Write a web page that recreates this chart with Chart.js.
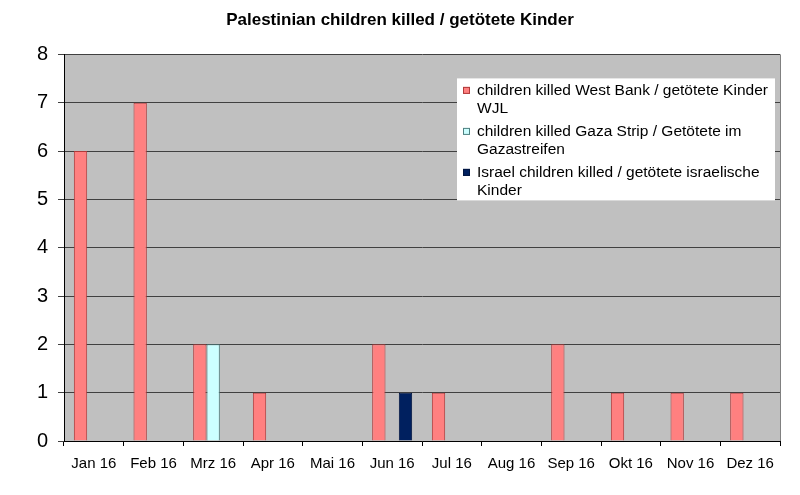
<!DOCTYPE html>
<html>
<head>
<meta charset="utf-8">
<script src="https://cdn.jsdelivr.net/npm/chart.js@4.4.1/dist/chart.umd.min.js"></script>
<style>
    html, body { margin: 0; padding: 0; background: #fff; }
    #wrap { width: 800px; height: 495px; }
</style>
</head>
<body>
<div id="wrap"><canvas id="myChart" width="800" height="495"></canvas></div>
<script>
// data
const months = ['Jan 16', 'Feb 16', 'Mrz 16', 'Apr 16', 'Mai 16', 'Jun 16', 'Jul 16', 'Aug 16', 'Sep 16', 'Okt 16', 'Nov 16', 'Dez 16']
const westBank = [6, 7, 2, 1, 0, 2, 1, 0, 2, 1, 1, 1]
const gaza = [0, 0, 2, 0, 0, 0, 0, 0, 0, 0, 0, 0]
const israel = [0, 0, 0, 0, 0, 1, 0, 0, 0, 0, 0, 0]
const seriesNames = [
    'children killed West Bank / getötete Kinder WJL',
    'children killed Gaza Strip / Getötete im Gazastreifen',
    'Israel children killed / getötete israelische Kinder'
]
const yTicks = [0, 1, 2, 3, 4, 5, 6, 7, 8]

const FONT = '"Liberation Sans", Arial, sans-serif'

// grey plot background + frame
const plotBg = {
    id: 'plotBg',
    beforeDraw(chart) {
        const { ctx, chartArea: a } = chart
        ctx.save()
        ctx.fillStyle = '#c0c0c0'
        ctx.fillRect(a.left, a.top, a.right - a.left, a.bottom - a.top)
        ctx.strokeStyle = '#808080'
        ctx.lineWidth = 1
        ctx.beginPath()
        ctx.moveTo(a.right + 0.5, a.top)
        ctx.lineTo(a.right + 0.5, a.bottom)
        ctx.stroke()
        ctx.restore()
    }
}

// legend box drawn inside the plot, with wrapped labels
const boxLegend = {
    id: 'boxLegend',
    afterDraw(chart) {
        const { ctx, chartArea: a } = chart
        const x = a.left + 393, y = a.top + 24, w = 318, h = 122
        const maxW = 298
        ctx.save()
        ctx.fillStyle = '#fff'
        ctx.fillRect(x, y, w, h)
        ctx.font = '15.5px ' + FONT
        ctx.textBaseline = 'middle'
        let ty = y + 12
        chart.data.datasets.forEach(ds => {
            // wrap words
            const words = ds.label.split(' ')
            const lines = []
            let cur = ''
            words.forEach(wd => {
                const test = cur ? cur + ' ' + wd : wd
                if (ctx.measureText(test).width > maxW && cur) {
                    lines.push(cur)
                    cur = wd
                } else {
                    cur = test
                }
            })
            lines.push(cur)
            ctx.fillStyle = ds.backgroundColor
            ctx.fillRect(x + 6, ty - 3.5, 7, 7)
            ctx.strokeStyle = ds.borderColor
            ctx.lineWidth = 1
            ctx.strokeRect(x + 6.5, ty - 3, 6, 6)
            ctx.fillStyle = '#000'
            lines.forEach((ln, i) => {
                ctx.fillText(ln, x + 20, ty + i * 18.5)
            })
            ty += lines.length * 18.5 + 4
        })
        ctx.restore()
    }
}

const ctx = document.getElementById('myChart').getContext('2d')

new Chart(ctx, {
    type: 'bar',
    data: {
        labels: months,
        datasets: [
            { label: seriesNames[0], data: westBank, backgroundColor: '#ff8080', borderColor: '#b03a3a', borderWidth: 1 },
            { label: seriesNames[1], data: gaza, backgroundColor: '#ccffff', borderColor: '#4f8080', borderWidth: 1 },
            { label: seriesNames[2], data: israel, backgroundColor: '#00205f', borderColor: '#001540', borderWidth: 1 }
        ]
    },
    options: {
        responsive: false,
        animation: false,
        devicePixelRatio: 1,
        layout: {
            padding: { left: 20, right: 20, top: 0, bottom: 0 }
        },
        categoryPercentage: 0.67,
        barPercentage: 1,
        plugins: {
            legend: { display: false },
            tooltip: { enabled: false },
            title: {
                display: true,
                text: 'Palestinian children killed / getötete Kinder',
                color: '#000',
                font: { family: FONT, size: 17, weight: 'bold' },
                padding: { top: 10, bottom: 24 }
            }
        },
        scales: {
            x: {
                grid: {
                    display: true,
                    drawOnChartArea: false,
                    offset: true,
                    color: '#000',
                    tickLength: 5
                },
                border: { color: '#000', width: 1 },
                ticks: {
                    color: '#000',
                    font: { family: FONT, size: 15 },
                    padding: 9,
                    maxRotation: 0,
                    autoSkip: false
                },
                afterFit(scale) { scale.height = 54 }
            },
            y: {
                min: 0,
                max: 8,
                afterBuildTicks(scale) { scale.ticks = yTicks.map(v => ({ value: v })) },
                grid: {
                    color: '#404040',
                    tickLength: 6
                },
                border: { color: '#000', width: 1 },
                ticks: {
                    color: '#000',
                    font: { family: FONT, size: 20 },
                    padding: 10
                },
                afterFit(scale) { scale.width = 44 }
            }
        }
    },
    plugins: [plotBg, boxLegend]
})
</script>
</body>
</html>
